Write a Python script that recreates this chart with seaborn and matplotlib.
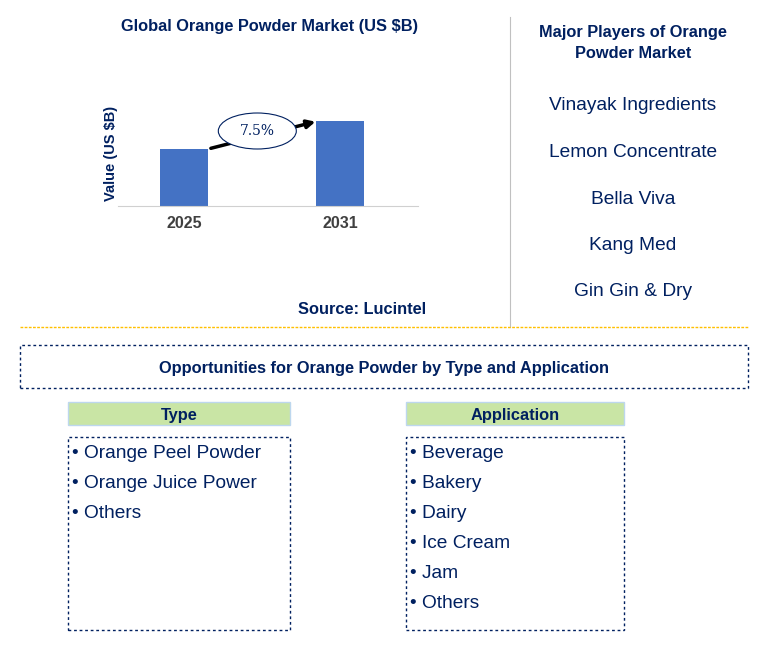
import matplotlib
matplotlib.use("Agg")
import matplotlib.pyplot as plt
import seaborn as sns
import pandas as pd
from matplotlib.patches import Rectangle, Ellipse, FancyArrowPatch

years = ["2025", "2031"]
values = [0.57, 0.85]
cagr_label = "7.5%"
players = ["Vinayak Ingredients", "Lemon Concentrate", "Bella Viva", "Kang Med", "Gin Gin & Dry"]
types = ["Orange Peel Powder", "Orange Juice Power", "Others"]
applications = ["Beverage", "Bakery", "Dairy", "Ice Cream", "Jam", "Others"]

plt.rcParams["font.family"] = "Liberation Sans"
W, H = 777, 655
NAVY = "#002060"
fig = plt.figure(figsize=(W/100, H/100), dpi=100)
def fx(x): return x / W
def fy(y): return 1 - (y + 2) / H

ax = fig.add_axes([118/W, 1 - 206/H, (418-118)/W, (206-100)/H])
df = pd.DataFrame({"year": years, "value": values})
sns.barplot(data=df, x="year", y="value", color="#4472C4", width=0.31, ax=ax, saturation=1)
ax.set_xlim(-0.423, 1.5)
ax.set_ylim(0, 1.06)
ax.set_yticks([])
ax.set_xlabel("")
ax.set_ylabel("Value (US $B)", color=NAVY, fontsize=10.5, fontweight="bold", labelpad=0)
for s in ["top", "right", "left"]:
    ax.spines[s].set_visible(False)
ax.spines["bottom"].set_color("#d0d0d0")
ax.tick_params(axis="x", length=0, pad=7, labelsize=11.5, labelcolor="#404040")
for t in ax.get_xticklabels():
    t.set_fontweight("bold")
ax.add_patch(FancyArrowPatch((0.155, values[0]), (0.86, values[1]), arrowstyle="-|>", mutation_scale=12,
                             color="black", lw=2.5))
ax.add_patch(Ellipse((0.47, 0.75), 0.5, 0.36, facecolor="white", edgecolor=NAVY, lw=0.8, zorder=5))
ax.text(0.47, 0.75, cagr_label, ha="center", va="center", fontsize=10, color=NAVY, family="serif", zorder=6)

fig.text(fx(270), fy(25), "Global Orange Powder Market (US $B)", ha="center", va="center",
         fontsize=11.8, fontweight="bold", color=NAVY)
fig.text(fx(362), fy(307), "Source: Lucintel", ha="center", va="center", fontsize=11.8,
         fontweight="bold", color=NAVY)

fig.add_artist(plt.Line2D([fx(510), fx(510)], [fy(15), fy(325)], color="#c0c0c0", lw=0.8))
fig.text(fx(633), fy(41), "Major Players of Orange\nPowder Market", ha="center", va="center",
         fontsize=11.8, fontweight="bold", color=NAVY, linespacing=1.45)
for i, p in enumerate(players):
    fig.text(fx(633), fy(104 + i*46.5), p, ha="center", va="center", fontsize=13.8, color=NAVY)

fig.add_artist(plt.Line2D([20/W, 748/W], [1-327/H, 1-327/H], color="#FFC000", lw=1, ls=(0, (2, 1))))

def box(x0, y0, x1, y1, **kw):
    fig.add_artist(Rectangle((x0/W, 1 - y1/H), (x1-x0)/W, (y1-y0)/H, transform=fig.transFigure, **kw))

box(20, 345, 748, 388, fill=False, edgecolor=NAVY, lw=1, ls=(0, (2, 2)))
fig.text(fx(384), fy(366), "Opportunities for Orange Powder by Type and Application", ha="center",
         va="center", fontsize=11.8, fontweight="bold", color=NAVY)

for (x0, x1, title, items) in [(68, 290, "Type", types), (406, 624, "Application", applications)]:
    box(x0, 402, x1, 425, facecolor="#C9E5A5", edgecolor="#BDD7EE", lw=1)
    fig.text(fx((x0+x1)/2), fy(413.5), title, ha="center", va="center", fontsize=11.8,
             fontweight="bold", color=NAVY)
    box(x0, 437, x1, 630, fill=False, edgecolor=NAVY, lw=1, ls=(0, (2, 2)))
    for i, it in enumerate(items):
        fig.text(fx(x0+4), fy(451 + i*30), "• " + it, ha="left", va="center", fontsize=13.8, color=NAVY)

fig.savefig("out.png", dpi=100)
